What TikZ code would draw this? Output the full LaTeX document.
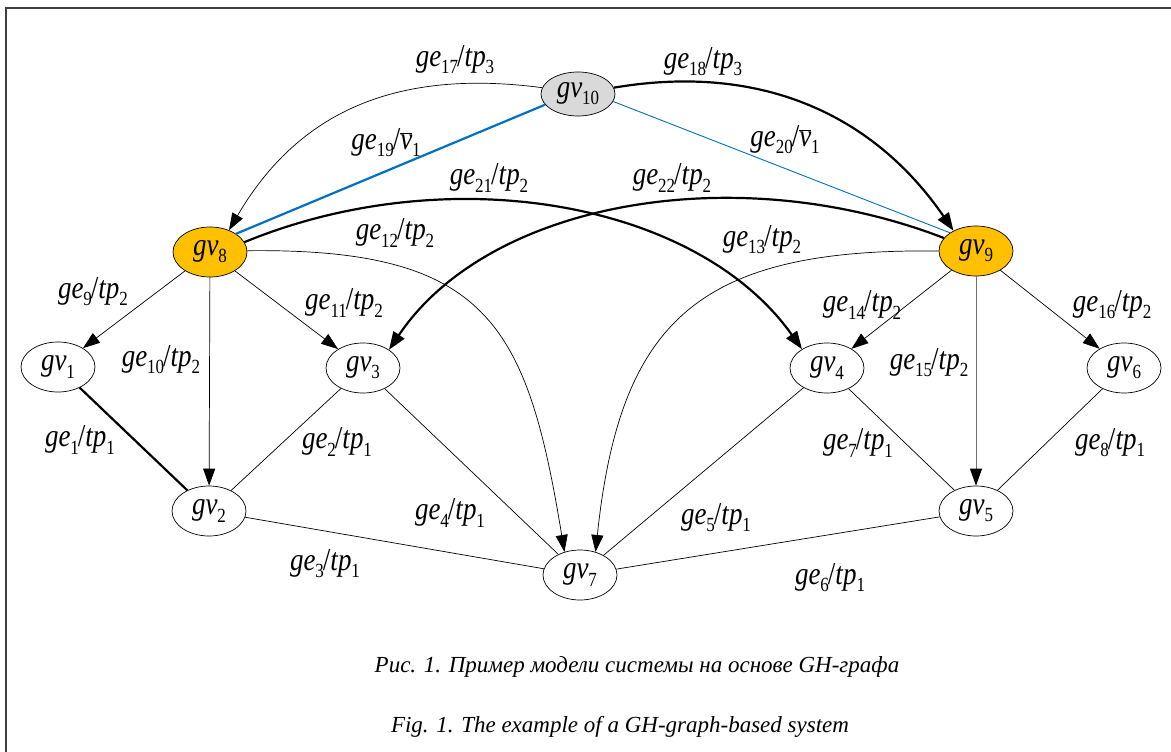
\documentclass[tikz,border=0pt]{standalone}
\usepackage{fontspec}
\usepackage{graphicx}
\setmainfont{Liberation Serif}
\usetikzlibrary{arrows.meta,shapes.geometric}
\definecolor{gvorange}{HTML}{FFC000}
\definecolor{gvgray}{HTML}{D9D9D9}
\definecolor{gvblue}{HTML}{0070C0}
\newcommand\sbs[1]{\raisebox{-0.22em}{\fontsize{17}{17}\selectfont\upshape #1}}
\newcommand\st[1]{\scalebox{1}[1.18]{#1}}
\newcommand\gvn[1]{\st{\textit{gv}\sbs{#1}}}
\newcommand\gel[2]{\st{\textit{ge}\sbs{#1}\kern-1pt/\textit{tp}\sbs{#2}}}
\newcommand\gev[2]{\st{\textit{ge}\sbs{#1}\kern-1pt/$\overline{\mbox{\textit{v}}}$\sbs{#2}}}
\tikzset{
  vtx/.style={ellipse, draw, line width=0.7pt, minimum width=74pt, minimum height=50pt, inner sep=0pt, font=\fontsize{27}{29}\selectfont},
  lbl/.style={inner sep=0pt, font=\fontsize{27}{29}\selectfont},
  arr/.style={-{Triangle[length=17pt,width=12pt]}, line width=0.7pt},
  tarr/.style={-{Triangle[length=18pt,width=13pt]}, line width=2.2pt},
  ln/.style={line width=0.7pt},
  thk/.style={line width=2.2pt},
  captxt/.style={inner sep=0pt, font=\fontsize{23}{26}\selectfont\itshape}
}
\begin{document}
\begin{tikzpicture}[x=1pt,y=1pt]
\useasboundingbox (0,0) rectangle (1171,-752);
\draw[line width=2pt, black!75] (6,-752) -- (6,-8) -- (1171,-8);

% vertices
\node[vtx, fill=gvgray, minimum height=44pt] (gv10) at (578,-94) {\gvn{10}};
\node[vtx, fill=gvorange] (gv8) at (210,-252) {\gvn{8}};
\node[vtx, fill=gvorange] (gv9) at (976,-251) {\gvn{9}};
\node[vtx] (gv1) at (58,-367) {\gvn{1}};
\node[vtx] (gv3) at (363,-368) {\gvn{3}};
\node[vtx] (gv4) at (827,-368) {\gvn{4}};
\node[vtx] (gv6) at (1124,-368) {\gvn{6}};
\node[vtx] (gv2) at (209,-511) {\gvn{2}};
\node[vtx] (gv5) at (976,-511) {\gvn{5}};
\node[vtx] (gv7) at (580,-575) {\gvn{7}};

% edges
\draw[arr] (gv10.170) .. controls (393,-68) and (297,-114) .. (gv8.49);
\draw[tarr] (gv10.10) .. controls (765,-62) and (876,-118) .. (gv9.138);
\draw[gvblue, line width=2.2pt] (gv10.198) -- (gv8.35);
\draw[gvblue, line width=0.9pt] (gv10.-12) -- (gv9.145);
\draw[tarr] (gv8.16) .. controls (449,-158) and (697,-201) .. (gv4.143);
\draw[tarr] (gv9.158) .. controls (737,-158) and (489,-201) .. (gv3.35);
\draw[arr] (gv8.2) .. controls (487,-248) and (527,-323) .. (gv7.124);
\draw[arr] (gv9.180) .. controls (699,-248) and (620,-320) .. (gv7.56);
\draw[arr] (gv8) -- (gv1);
\draw[arr] (gv8) -- (gv2);
\draw[arr] (gv8) -- (gv3);
\draw[arr] (gv9) -- (gv4);
\draw[-{Triangle[length=17pt,width=12pt,color=black]}, line width=1pt, black!55] (gv9) -- (gv5);
\draw[arr] (gv9) -- (gv6);
\draw[thk] (gv1) -- (gv2);
\draw[ln] (gv3) -- (gv2);
\draw[ln] (gv2) -- (gv7);
\draw[ln] (gv3) -- (gv7);
\draw[ln] (gv4) -- (gv7);
\draw[ln] (gv7) -- (gv5);
\draw[ln] (gv4) -- (gv5);
\draw[ln] (gv6) -- (gv5);

% labels
\node[lbl] (l17) at (455,-60) {\gel{17}{3}};
\node[lbl] (l18) at (703,-62) {\gel{18}{3}};
\node[lbl] (l19) at (386,-143) {\gev{19}{1}};
\node[lbl] (l20) at (785,-140) {\gev{20}{1}};
\node[lbl] (l21) at (489,-178) {\gel{21}{2}};
\node[lbl] (l22) at (672,-178) {\gel{22}{2}};
\node[lbl] (l12) at (395,-233) {\gel{12}{2}};
\node[lbl] (l13) at (762,-240) {\gel{13}{2}};
\node[lbl] (l9) at (93,-292) {\gel{9}{2}};
\node[lbl] (l10) at (161,-360) {\gel{10}{2}};
\node[lbl] (l11) at (344,-303) {\gel{11}{2}};
\node[lbl] (l14) at (862,-305) {\gel{14}{2}};
\node[lbl] (l15) at (929,-363) {\gel{15}{2}};
\node[lbl] (l16) at (1112,-305) {\gel{16}{2}};
\node[lbl] (l1) at (80,-440) {\gel{1}{1}};
\node[lbl] (l2) at (337,-442) {\gel{2}{1}};
\node[lbl] (l4) at (450,-513) {\gel{4}{1}};
\node[lbl] (l3) at (325,-564) {\gel{3}{1}};
\node[lbl] (l5) at (716,-518) {\gel{5}{1}};
\node[lbl] (l7) at (858,-443) {\gel{7}{1}};
\node[lbl] (l6) at (830,-578) {\gel{6}{1}};
\node[lbl] (l8) at (1110,-443) {\gel{8}{1}};

% captions
\node[captxt] (c1) at (637,-667) {Рис. 1. Пример модели системы на основе GH-графа};
\node[captxt] (c2) at (620,-727) {Fig. 1. The example of a GH-graph-based system};
\end{tikzpicture}
\end{document}
